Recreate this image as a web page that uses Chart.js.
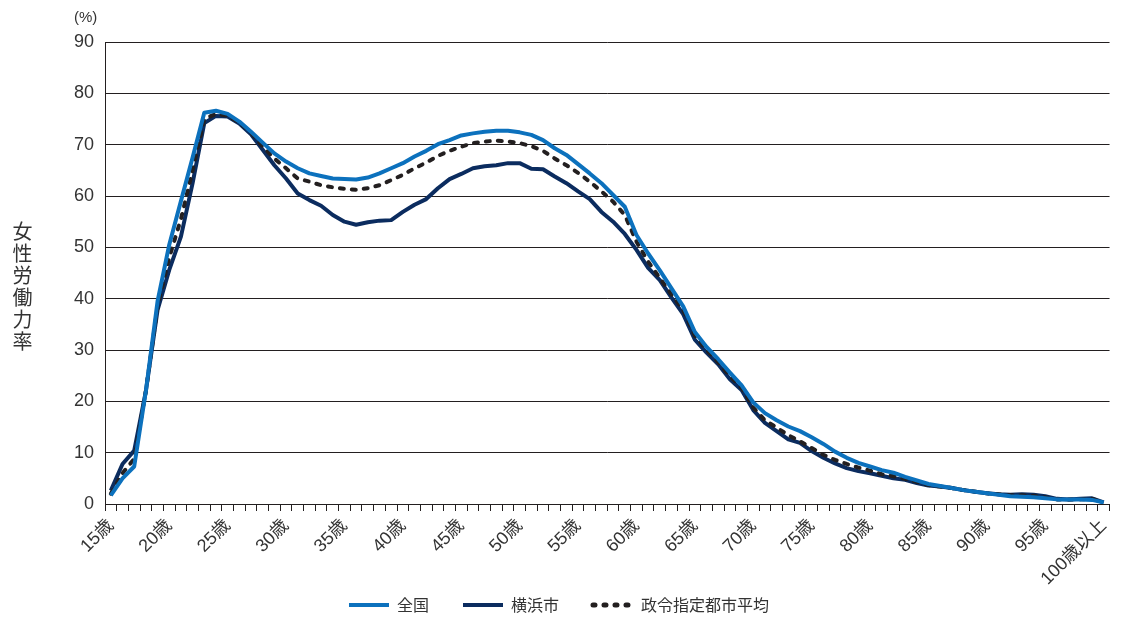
<!DOCTYPE html>
<html><head><meta charset="utf-8">
<script src="https://cdn.jsdelivr.net/npm/chart.js@4/dist/chart.umd.min.js"></script>
<style>
html,body{margin:0;padding:0;background:#fff;}
#wrap{position:relative;width:1123px;height:619px;overflow:hidden;}
#c{position:absolute;left:0;top:0;}
#unit{position:absolute;left:74px;top:8px;font:15px 'Liberation Sans','Noto Sans CJK JP',sans-serif;color:#333;}
#ytitle{position:absolute;left:8px;top:221px;writing-mode:vertical-rl;font:20px 'Noto Sans CJK JP',sans-serif;color:#333;letter-spacing:2px;}
</style></head>
<body><div id="wrap"><canvas id="c" width="1123" height="619"></canvas><div id="unit">(%)</div><div id="ytitle">女性労働力率</div></div>
<script>
const ages = ['15歳','16歳','17歳','18歳','19歳','20歳','21歳','22歳','23歳','24歳',
'25歳','26歳','27歳','28歳','29歳','30歳','31歳','32歳','33歳','34歳',
'35歳','36歳','37歳','38歳','39歳','40歳','41歳','42歳','43歳','44歳',
'45歳','46歳','47歳','48歳','49歳','50歳','51歳','52歳','53歳','54歳',
'55歳','56歳','57歳','58歳','59歳','60歳','61歳','62歳','63歳','64歳',
'65歳','66歳','67歳','68歳','69歳','70歳','71歳','72歳','73歳','74歳',
'75歳','76歳','77歳','78歳','79歳','80歳','81歳','82歳','83歳','84歳',
'85歳','86歳','87歳','88歳','89歳','90歳','91歳','92歳','93歳','94歳',
'95歳','96歳','97歳','98歳','99歳','100歳以上'];

const tickLabels = ['15歳','20歳','25歳','30歳','35歳','40歳','45歳','50歳','55歳','60歳',
'65歳','70歳','75歳','80歳','85歳','90歳','95歳','100歳以上'];

const yTicks = [0,10,20,30,40,50,60,70,80,90];

const zenkoku = [1.7,5.0,7.3,22.0,39.5,50.5,59.0,67.5,76.2,76.6,
76.0,74.5,72.5,70.4,68.3,66.7,65.4,64.4,63.9,63.4,
63.3,63.2,63.6,64.4,65.4,66.4,67.7,68.8,70.1,70.9,
71.8,72.2,72.5,72.7,72.7,72.4,71.9,70.9,69.3,68.0,
66.2,64.4,62.5,60.2,57.9,52.4,48.8,45.5,42.0,38.5,
33.5,30.6,28.2,25.6,23.1,19.8,17.7,16.3,15.1,14.2,
13.0,11.7,10.2,9.0,8.0,7.3,6.6,6.1,5.3,4.6,
3.9,3.5,3.1,2.7,2.4,2.1,1.8,1.5,1.4,1.3,
1.1,0.9,0.9,0.9,0.8,0.3];

const yokohama = [2.6,7.8,10.4,22.0,37.8,45.6,52.1,62.5,74.2,75.6,
75.5,74.1,72.0,69.0,66.0,63.4,60.5,59.2,58.1,56.3,
55.0,54.4,54.9,55.2,55.3,56.9,58.3,59.4,61.5,63.3,
64.3,65.4,65.8,66.0,66.4,66.4,65.3,65.2,63.8,62.5,
60.9,59.4,56.9,55.0,52.6,49.5,46.0,43.6,40.2,37.0,
32.0,29.5,27.2,24.3,22.2,18.3,15.8,14.2,12.6,11.9,
10.3,9.0,7.9,7.0,6.4,6.0,5.5,5.0,4.7,4.1,
3.6,3.4,3.1,2.7,2.4,2.1,1.9,1.8,1.9,1.8,
1.5,1.0,0.9,1.0,1.1,0.3];

const seirei = [2.0,6.0,8.8,22.0,38.5,48.0,55.5,65.0,75.0,76.0,
75.6,74.3,72.3,69.6,67.3,65.4,63.4,62.8,62.1,61.7,
61.4,61.2,61.5,62.1,63.1,64.1,65.4,66.5,67.8,68.8,
69.6,70.3,70.6,70.8,70.6,70.3,69.7,68.8,67.3,66.0,
64.5,62.8,60.9,58.9,56.3,51.1,47.2,44.0,40.8,37.8,
32.8,30.0,27.6,24.9,22.6,18.8,16.3,14.9,13.4,12.2,
10.9,9.6,8.6,7.8,7.1,6.5,5.8,5.4,4.9,4.3,
3.7,3.4,3.1,2.7,2.4,2.1,1.9,1.7,1.7,1.6,
1.3,0.9,0.9,0.9,1.0,0.3];

const seriesNames = ['全国','横浜市','政令指定都市平均'];

const fontNum = "'Liberation Sans Narrow','Liberation Sans','Noto Sans CJK JP',sans-serif";
const fontJP = "'Noto Sans CJK JP',sans-serif";

new Chart(document.getElementById('c'), {
  type: 'line',
  data: {
    labels: ages,
    datasets: [
      {label: seriesNames[0], data: zenkoku, borderColor: '#0c71bd', backgroundColor: '#0c71bd',
       borderWidth: 4, pointRadius: 0, tension: 0, borderJoinStyle: 'round', order: 0},
      {label: seriesNames[1], data: yokohama, borderColor: '#0b2c5f', backgroundColor: '#0b2c5f',
       borderWidth: 4, pointRadius: 0, tension: 0, borderJoinStyle: 'round', order: 2},
      {label: seriesNames[2], data: seirei, borderColor: '#231f20', backgroundColor: '#231f20',
       borderWidth: 4, borderDash: [4, 8], borderCapStyle: 'round', pointRadius: 0, tension: 0, order: 1}
    ]
  },
  options: {
    responsive: false,
    animation: false,
    devicePixelRatio: 1,
    layout: {padding: {left: 0, right: 5, top: 42, bottom: -4}},
    plugins: {
      tooltip: {enabled: false},
      legend: {
        position: 'bottom',
        labels: {
          usePointStyle: true,
          pointStyleWidth: 40,
          boxHeight: 16,
          padding: 34,
          color: '#333',
          font: {family: fontJP, size: 16},
          generateLabels: chart => chart.data.datasets.map((ds, i) => ({
            text: ds.label,
            fillStyle: ds.borderColor,
            strokeStyle: ds.borderColor,
            fontColor: '#333',
            lineWidth: ds.borderDash ? 5 : 4,
            lineDash: ds.borderDash ? [2, 9] : [],
            lineCap: ds.borderDash ? 'round' : 'butt',
            pointStyle: 'line',
            hidden: false,
            datasetIndex: i
          }))
        }
      }
    },
    scales: {
      x: {
        offset: true,
        grid: {offset: true, drawOnChartArea: false, drawTicks: true, tickLength: 7, color: '#231f20', lineWidth: 1},
        border: {display: true, color: '#231f20', width: 1},
        ticks: {
          autoSkip: false, maxRotation: 45, minRotation: 45, padding: 4,
          color: '#333', font: {family: fontNum, size: 18},
          callback: function(v, i) { const l = ages[i]; return tickLabels.includes(l) ? l : ''; }
        },
        afterFit: s => { s.height = 59; },
        afterUpdate: s => { s._computeLabelArea = () => undefined; }
      },
      y: {
        min: 0, max: 90,
        afterBuildTicks: s => { s.ticks = yTicks.map(v => ({value: v})); },
        grid: {color: '#231f20', lineWidth: 1, drawTicks: false},
        border: {display: true, color: '#231f20', width: 1},
        ticks: {padding: 11, color: '#333', font: {family: fontNum, size: 18}},
        afterFit: s => { s.width = 105; }
      }
    }
  }
});
</script>
</body></html>
